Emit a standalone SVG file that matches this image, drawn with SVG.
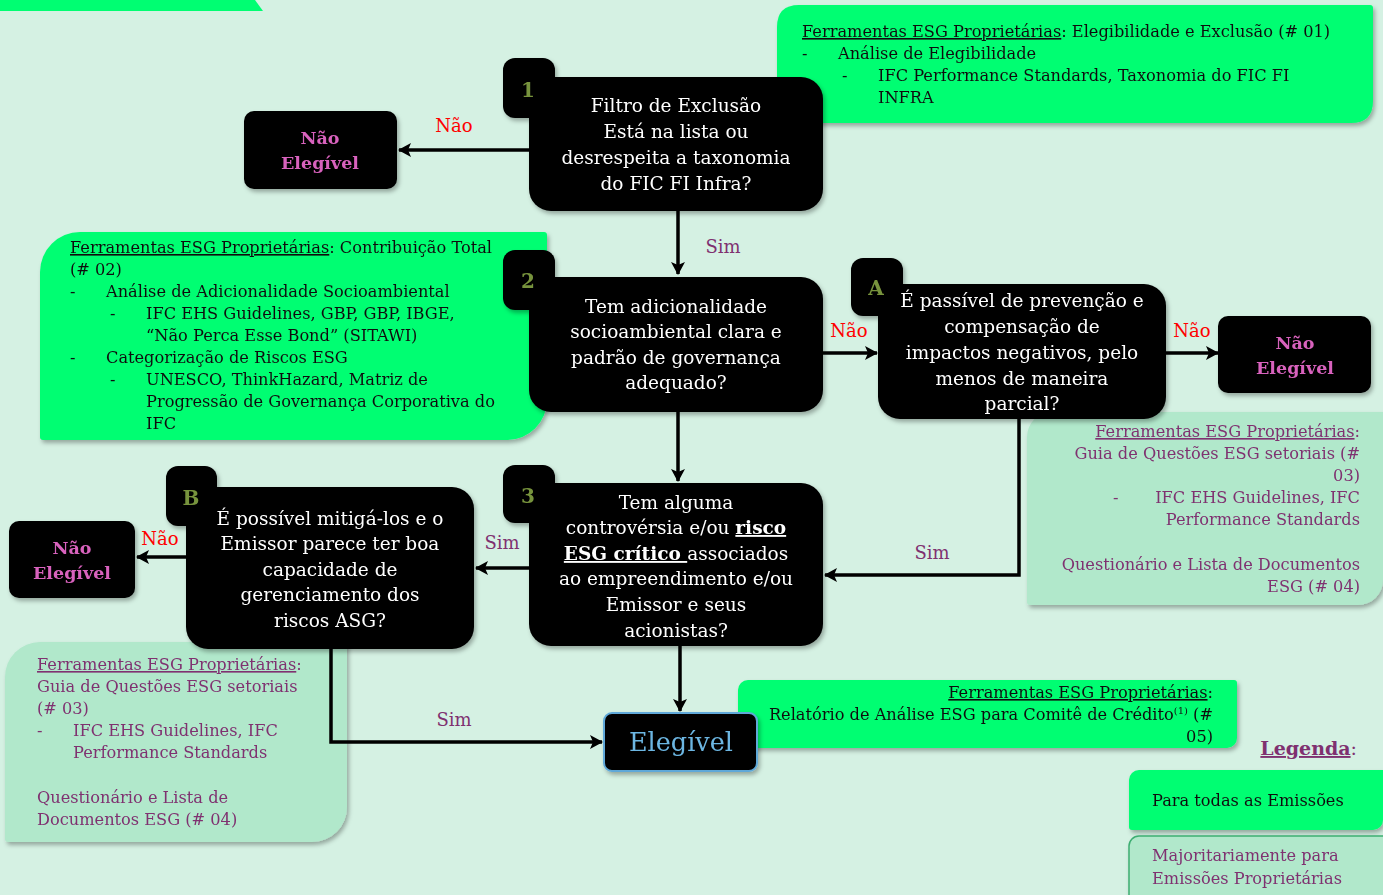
<svg xmlns="http://www.w3.org/2000/svg" width="1383" height="895" viewBox="0 0 1383 895">
<defs>
<filter id="sh" x="-10%" y="-10%" width="130%" height="130%">
<feDropShadow dx="2" dy="3" stdDeviation="2" flood-color="#000" flood-opacity="0.3"/>
</filter>
<marker id="ah" markerUnits="userSpaceOnUse" markerWidth="14" markerHeight="14" refX="12" refY="7" orient="auto">
<path d="M0,0 L13,7 L0,14 L3,7 Z" fill="#000"/>
</marker>
<style>
.t{font-family:"DejaVu Serif","Liberation Serif",serif}
.g{fill:#00fe72}
.lg{fill:#b1e8cb}
.blk{fill:#000}
.w{fill:#fff;font-size:18.5px;text-anchor:middle}
.num{fill:#77933c;font-size:20px;font-weight:bold;text-anchor:middle}
.ne{fill:#d862bd;font-size:17.5px;font-weight:bold;text-anchor:middle}
.bt{fill:#111;font-size:16.2px}
.pt{fill:#7f3070;font-size:16.2px}
.no{fill:#ff0000;font-size:18px;text-anchor:middle}
.sim{fill:#7f3070;font-size:18px;text-anchor:middle}
.c{stroke:#000;stroke-width:3.5;fill:none}
</style>
</defs>
<rect width="1383" height="895" fill="#d5f1e3"/>
<polygon points="0,0 255,0 263,11 0,11" fill="#00fe72"/>

<g id="tools01" filter="url(#sh)">
<path class="g" d="M799,5 H1370 Q1373,5 1373,8 V101 Q1373,123 1351,123 H780 Q777,123 777,120 V27 Q777,5 799,5 Z"/>
<text class="t bt"><tspan x="802" y="37" text-decoration="underline">Ferramentas ESG Proprietárias</tspan>: Elegibilidade e Exclusão (# 01)</text>
<text class="t bt" x="802" y="59">-</text>
<text class="t bt" x="838" y="59">Análise de Elegibilidade</text>
<text class="t bt" x="842" y="81">-</text>
<text class="t bt" x="878" y="81">IFC Performance Standards, Taxonomia do FIC FI</text>
<text class="t bt" x="878" y="103">INFRA</text>
</g>

<g id="tools02" filter="url(#sh)">
<path class="g" d="M80,232 H544 Q547,232 547,235 V400 A40,40 0 0 1 507,440 H43 Q40,440 40,437 V272 A40,40 0 0 1 80,232 Z"/>
<text class="t bt"><tspan x="70" y="253" text-decoration="underline">Ferramentas ESG Proprietárias</tspan>: Contribuição Total</text>
<text class="t bt" x="70" y="275">(# 02)</text>
<text class="t bt" x="70" y="297">-</text>
<text class="t bt" x="106" y="297">Análise de Adicionalidade Socioambiental</text>
<text class="t bt" x="110" y="319">-</text>
<text class="t bt" x="146" y="319">IFC EHS Guidelines, GBP, GBP, IBGE,</text>
<text class="t bt" x="146" y="341">“Não Perca Esse Bond” (SITAWI)</text>
<text class="t bt" x="70" y="363">-</text>
<text class="t bt" x="106" y="363">Categorização de Riscos ESG</text>
<text class="t bt" x="110" y="385">-</text>
<text class="t bt" x="146" y="385">UNESCO, ThinkHazard, Matriz de</text>
<text class="t bt" x="146" y="407">Progressão de Governança Corporativa do</text>
<text class="t bt" x="146" y="429">IFC</text>
</g>

<g id="tools03r" filter="url(#sh)">
<path class="lg" d="M1052,412 H1383 V580 A25,25 0 0 1 1358,605 H1030 Q1027,605 1027,602 V437 A25,25 0 0 1 1052,412 Z"/>
<text class="t pt" x="1360" y="437" text-anchor="end"><tspan text-decoration="underline">Ferramentas ESG Proprietárias</tspan>:</text>
<text class="t pt" x="1360" y="459" text-anchor="end">Guia de Questões ESG setoriais (#</text>
<text class="t pt" x="1360" y="481" text-anchor="end">03)</text>
<text class="t pt" x="1113" y="503">-</text>
<text class="t pt" x="1360" y="503" text-anchor="end">IFC EHS  Guidelines, IFC</text>
<text class="t pt" x="1360" y="525" text-anchor="end">Performance Standards</text>
<text class="t pt" x="1360" y="570" text-anchor="end">Questionário e Lista de Documentos</text>
<text class="t pt" x="1360" y="592" text-anchor="end">ESG (# 04)</text>
</g>

<g id="tools03l" filter="url(#sh)">
<path class="lg" d="M40,642 H344 Q347,642 347,645 V807 A35,35 0 0 1 312,842 H8 Q5,842 5,839 V677 A35,35 0 0 1 40,642 Z"/>
<text class="t pt" x="37" y="670"><tspan text-decoration="underline">Ferramentas ESG Proprietárias</tspan>:</text>
<text class="t pt" x="37" y="692">Guia de Questões ESG setoriais</text>
<text class="t pt" x="37" y="714">(# 03)</text>
<text class="t pt" x="37" y="736">-</text>
<text class="t pt" x="73" y="736">IFC EHS  Guidelines, IFC</text>
<text class="t pt" x="73" y="758">Performance Standards</text>
<text class="t pt" x="37" y="803">Questionário e Lista de</text>
<text class="t pt" x="37" y="825">Documentos ESG (# 04)</text>
</g>

<g id="tools05" filter="url(#sh)">
<path class="g" d="M748,680 H1234 Q1237,680 1237,683 V738 A10,10 0 0 1 1227,748 H741 Q738,748 738,745 V690 A10,10 0 0 1 748,680 Z"/>
<text class="t bt" x="1213" y="698" text-anchor="end"><tspan text-decoration="underline">Ferramentas ESG Proprietárias</tspan>:</text>
<text class="t bt" x="1213" y="720" text-anchor="end">Relatório de Análise ESG para Comitê de Crédito<tspan font-size="10" dy="-6">(1)</tspan><tspan dy="6"> (#</tspan></text>
<text class="t bt" x="1213" y="742" text-anchor="end">05)</text>
</g>

<g id="ne1" filter="url(#sh)">
<rect class="blk" x="244" y="111" width="153" height="78" rx="10"/>
<text class="t ne" x="320" y="144">Não</text>
<text class="t ne" x="320" y="169">Elegível</text>
</g>

<g id="node1" filter="url(#sh)">
<rect class="blk" x="503" y="58" width="52" height="60" rx="12"/>
<rect class="blk" x="529" y="77" width="294" height="134" rx="22"/>
<text class="t num" x="528" y="97">1</text>
<text class="t w" x="676" y="112">Filtro de Exclusão</text>
<text class="t w" x="676" y="138">Está na lista ou</text>
<text class="t w" x="676" y="164">desrespeita a taxonomia</text>
<text class="t w" x="676" y="190">do FIC FI Infra?</text>
</g>

<g id="node2" filter="url(#sh)">
<rect class="blk" x="503" y="250" width="52" height="60" rx="12"/>
<rect class="blk" x="529" y="277" width="294" height="135" rx="22"/>
<text class="t num" x="528" y="288">2</text>
<text class="t w" x="676" y="313">Tem adicionalidade</text>
<text class="t w" x="676" y="338">socioambiental clara e</text>
<text class="t w" x="676" y="364">padrão de governança</text>
<text class="t w" x="676" y="389">adequado?</text>
</g>

<g id="nodeA" filter="url(#sh)">
<rect class="blk" x="851" y="258" width="52" height="58" rx="12"/>
<rect class="blk" x="878" y="284" width="288" height="135" rx="22"/>
<text class="t num" x="876" y="295">A</text>
<text class="t w" x="1022" y="307">É passível de prevenção e</text>
<text class="t w" x="1022" y="333">compensação de</text>
<text class="t w" x="1022" y="359">impactos negativos, pelo</text>
<text class="t w" x="1022" y="385">menos de maneira</text>
<text class="t w" x="1022" y="410">parcial?</text>
</g>

<g id="ne2" filter="url(#sh)">
<rect class="blk" x="1218" y="316" width="153" height="77" rx="10"/>
<text class="t ne" x="1295" y="349">Não</text>
<text class="t ne" x="1295" y="374">Elegível</text>
</g>

<g id="node3" filter="url(#sh)">
<rect class="blk" x="503" y="465" width="52" height="58" rx="12"/>
<rect class="blk" x="529" y="483" width="294" height="163" rx="22"/>
<text class="t num" x="528" y="503">3</text>
<text class="t w" x="676" y="509">Tem alguma</text>
<text class="t w" x="676" y="534">controvérsia e/ou <tspan font-weight="bold" text-decoration="underline">risco</tspan></text>
<text class="t w" x="676" y="560"><tspan font-weight="bold" text-decoration="underline">ESG crítico </tspan>associados</text>
<text class="t w" x="676" y="585">ao empreendimento e/ou</text>
<text class="t w" x="676" y="611">Emissor e seus</text>
<text class="t w" x="676" y="637">acionistas?</text>
</g>

<g id="nodeB" filter="url(#sh)">
<rect class="blk" x="166" y="466" width="51" height="60" rx="12"/>
<rect class="blk" x="186" y="487" width="288" height="162" rx="22"/>
<text class="t num" x="191" y="505">B</text>
<text class="t w" x="330" y="525">É possível mitigá-los e o</text>
<text class="t w" x="330" y="550">Emissor parece ter boa</text>
<text class="t w" x="330" y="576">capacidade de</text>
<text class="t w" x="330" y="601">gerenciamento dos</text>
<text class="t w" x="330" y="627">riscos ASG?</text>
</g>

<g id="ne3" filter="url(#sh)">
<rect class="blk" x="9" y="521" width="126" height="77" rx="10"/>
<text class="t ne" x="72" y="554">Não</text>
<text class="t ne" x="72" y="579">Elegível</text>
</g>

<g id="elegivel" filter="url(#sh)">
<rect x="604" y="713" width="153" height="58" rx="8" fill="#000" stroke="#5ea8d8" stroke-width="2"/>
<text class="t" x="681" y="751" font-size="25.5" fill="#6cb6e2" text-anchor="middle">Elegível</text>
</g>

<g id="connectors">
<line class="c" x1="529" y1="150" x2="399" y2="150" marker-end="url(#ah)"/>
<line class="c" x1="678" y1="211" x2="678" y2="274" marker-end="url(#ah)"/>
<line class="c" x1="823" y1="353" x2="877" y2="353" marker-end="url(#ah)"/>
<line class="c" x1="1166" y1="353" x2="1218" y2="353" marker-end="url(#ah)"/>
<line class="c" x1="678" y1="412" x2="678" y2="481" marker-end="url(#ah)"/>
<polyline class="c" points="1019,419 1019,575 825,575" marker-end="url(#ah)"/>
<line class="c" x1="529" y1="568" x2="476" y2="568" marker-end="url(#ah)"/>
<line class="c" x1="186" y1="557" x2="137" y2="557" marker-end="url(#ah)"/>
<polyline class="c" points="331,649 331,742 602,742" marker-end="url(#ah)"/>
<line class="c" x1="680" y1="646" x2="680" y2="711" marker-end="url(#ah)"/>
<text class="t no" x="454" y="132">Não</text>
<text class="t sim" x="723" y="253">Sim</text>
<text class="t no" x="849" y="337">Não</text>
<text class="t no" x="1192" y="337">Não</text>
<text class="t sim" x="932" y="559">Sim</text>
<text class="t sim" x="502" y="549">Sim</text>
<text class="t no" x="160" y="545">Não</text>
<text class="t sim" x="454" y="726">Sim</text>
</g>

<g id="legend">
<text class="t" x="1357" y="755" font-size="19" font-weight="bold" fill="#7f3070" text-anchor="end"><tspan text-decoration="underline">Legenda</tspan><tspan font-weight="normal">:</tspan></text>
<g filter="url(#sh)">
<path class="g" d="M1139,770 H1383 V820 A10,10 0 0 1 1373,830 H1132 Q1129,830 1129,827 V780 A10,10 0 0 1 1139,770 Z"/>
<text class="t bt" x="1152" y="806">Para todas as Emissões</text>
</g>
<g filter="url(#sh)">
<path d="M1139,836 H1385 V900 H1129 V846 A10,10 0 0 1 1139,836 Z" fill="#b1e8cb" stroke="#3eae72" stroke-width="1.5"/>
<text class="t pt" x="1152" y="861">Majoritariamente para</text>
<text class="t pt" x="1152" y="884">Emissões Proprietárias</text>
</g>
</g>
</svg>
